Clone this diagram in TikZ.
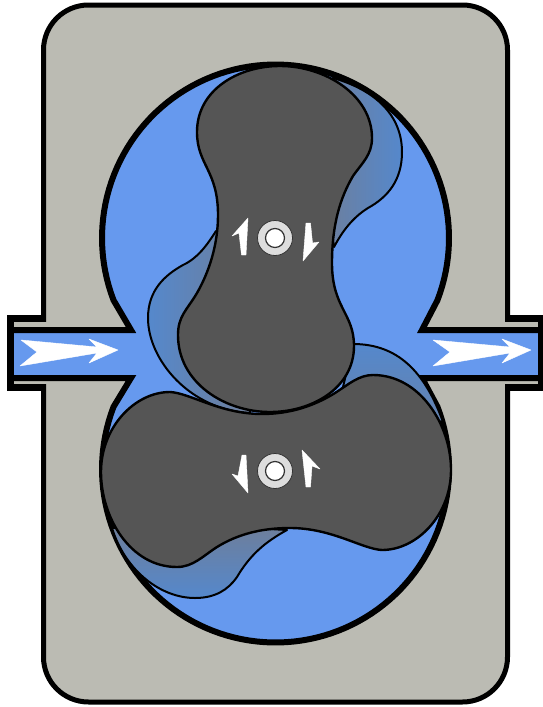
\documentclass[tikz,border=0pt]{standalone}
\definecolor{casing}{HTML}{BBBBB3}
\definecolor{fluid}{HTML}{6699EE}
\definecolor{shadowblue}{HTML}{5588CC}
\definecolor{shadowgrey}{HTML}{6E7E9A}
\definecolor{lobe}{HTML}{555555}
\definecolor{hubgrey}{HTML}{DDDDDD}
\tikzset{
  housing/.style={draw=black,line width=5pt,fill=casing},
  wall/.style={draw=black,line width=6pt,line join=miter},
  rotor/.style={draw=black,line width=2.4pt,fill=lobe},
  backflow/.style={draw=black,line width=2pt,line join=round},
  whitemark/.style={fill=white,draw=white,line width=.4pt,line join=round},
  hubouter/.style={draw=black!80,line width=.8pt,fill=hubgrey},
  hubinner/.style={draw=black!80,line width=1.2pt,fill=white},
  pipewall/.style={draw=black,line width=7pt}
}
\begin{document}
\begin{tikzpicture}[x=1pt,y=-1pt]
\useasboundingbox (0,0) rectangle (542,707);
\fill[white] (0,0) rectangle (542,707);
% pipe shell, housing
\draw[pipewall] (10.5,318.5) rectangle (541.5,387.5);
\draw[housing,rounded corners=45pt] (43.5,5) rectangle (507.5,702);
\fill[casing] (14,322) rectangle (538,384);
% chamber fill
\fill[fluid] (275.5,238) circle[radius=173.5pt];
\fill[fluid] (275.5,469) circle[radius=173.5pt];
\fill[fluid] (14,330) rectangle (538,378);
\fill[fluid] (113.5,300) -- (437.5,300) -- (422,330) -- (422,378) -- (437.5,407) -- (113.5,407) -- (131,378) -- (131,330) -- cycle;
% chamber and pipe walls
\draw[wall] (11,330) -- (131,330) -- plot[domain=159:381,samples=90] ({275.5+173.5*cos(\x)},{238+173.5*sin(\x)}) -- (422,330) -- (540,330);
\draw[wall] (11,378) -- (131,378) -- plot[domain=201:-21,samples=90] ({275.5+173.5*cos(\x)},{469+173.5*sin(\x)}) -- (422,378) -- (540,378);
% flow arrows
\fill[whitemark] (21,340) -- (37,352) -- (20,366) -- (97,353) -- (89,363) -- (118,350) -- (89,339) -- (97,347) -- cycle;
\fill[whitemark] (433,340) -- (450,352) -- (433,366) -- (510,353) -- (502,363) -- (531,350) -- (502,339) -- (510,347) -- cycle;
% back-flow shadows
\shadedraw[backflow,left color=shadowgrey,right color=shadowblue]
  (333,78) .. controls (375,90) and (402,115) .. (402,152)
  .. controls (402,180) and (388,197) .. (368,208)
  .. controls (352,218) and (342,232) .. (334,247)
  -- (320,160) -- cycle;
\shadedraw[backflow,left color=shadowblue,right color=shadowgrey]
  (216,231) .. controls (207,245) and (198,258) .. (183,265)
  .. controls (165,275) and (148,290) .. (148,318)
  .. controls (148,360) and (190,410) .. (250,413)
  -- (235,240) -- cycle;
\shadedraw[backflow,top color=shadowblue,bottom color=shadowgrey!60!shadowblue]
  (353,344) .. controls (398,344) and (425,372) .. (443,422)
  -- (340,400) -- cycle;
\shadedraw[backflow,top color=shadowgrey,bottom color=shadowblue]
  (112,528) .. controls (125,570) and (160,598) .. (195,598)
  .. controls (215,598) and (228,590) .. (237,577)
  .. controls (250,555) and (265,542) .. (287,530)
  -- (200,525) -- cycle;
% rotors
\draw[rotor] (101,472)
  .. controls (101,427) and (135,392) .. (170,392)
  .. controls (190,393) and (220,414) .. (262,414)
  .. controls (290,414) and (314,406) .. (335,393)
  .. controls (349,384) and (359,375) .. (373,375)
  .. controls (420,375) and (451,425) .. (451,470)
  .. controls (451,515) and (417,550) .. (382,550)
  .. controls (362,549) and (332,528) .. (290,528)
  .. controls (262,528) and (238,534) .. (217,547)
  .. controls (203,556) and (193,567) .. (177,567)
  .. controls (130,567) and (101,517) .. (101,472) -- cycle;
\draw[rotor] (280,66)
  .. controls (238,66) and (197,90) .. (197,132)
  .. controls (197,165) and (218,170) .. (218,215)
  .. controls (218,245) and (209,272) .. (197,293)
  .. controls (187,310) and (178,316) .. (178,335)
  .. controls (178,383) and (225,412) .. (270,412)
  .. controls (312,412) and (354,388) .. (354,346)
  .. controls (354,313) and (332,308) .. (332,263)
  .. controls (332,225) and (340,198) .. (353,176)
  .. controls (362,163) and (372,155) .. (372,138)
  .. controls (372,95) and (325,66) .. (280,66) -- cycle;
% hubs
\node[circle,hubouter,minimum size=35pt,inner sep=0pt] (hubA) at (275,238) {};
\node[circle,hubinner,minimum size=19pt,inner sep=0pt] (coreA) at (hubA) {};
\node[circle,hubouter,minimum size=35pt,inner sep=0pt] (hubB) at (275,471) {};
\node[circle,hubinner,minimum size=19pt,inner sep=0pt] (coreB) at (hubB) {};
% rotation arrows
\fill[whitemark] (248,218) -- (232,236) -- (239,233) -- (241.5,255) -- (246,255) -- cycle;
\fill[whitemark] (303,261) -- (319,242) -- (312.5,243) -- (310.5,223) -- (306,223) -- cycle;
\fill[whitemark] (248,493) -- (232,474) -- (238,476) -- (242,455) -- (246,455) -- cycle;
\fill[whitemark] (302,450) -- (320,469) -- (312,466) -- (310.5,487) -- (306,487) -- cycle;
\end{tikzpicture}
\end{document}
